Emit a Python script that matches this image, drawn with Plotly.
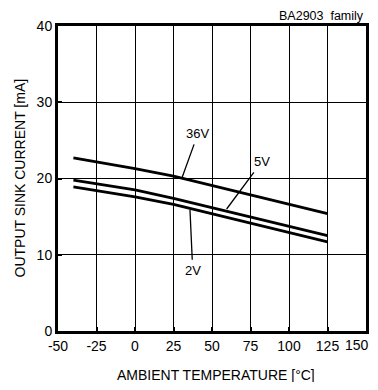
import plotly.graph_objects as go

# Data
temps = [-40, -25, 0, 25, 50, 75, 100, 125]
i_36v = [22.7, 22.2, 21.3, 20.3, 19.1, 17.9, 16.7, 15.4]
i_5v = [19.8, 19.3, 18.5, 17.4, 16.2, 15.0, 13.8, 12.5]
i_2v = [18.9, 18.4, 17.6, 16.6, 15.4, 14.2, 12.9, 11.7]

x_ticks = [-50, -25, 0, 25, 50, 75, 100, 125, 150]
x_tick_labels = ["-50", "-25", "0", "25", "50", "75", "100", "125", "150"]
y_ticks = [0, 10, 20, 30, 40]

# Labels: text, point on curve (x, y), text position (x, y)
label_text = ["36V", "5V", "2V"]
label_px = [30.7, 59.5, 35.7]
label_py = [20.2, 16.0, 15.9]
label_tx = [40.9, 82.3, 37.5]
label_ty = [25.9, 22.2, 7.9]

FONT = "Liberation Sans, Arial, sans-serif"

fig = go.Figure()
for ys in (i_36v, i_5v, i_2v):
    fig.add_trace(go.Scatter(x=temps, y=ys, mode="lines",
                             line=dict(color="black", width=2.8),
                             showlegend=False, hoverinfo="skip"))

for t, px, py, tx, ty in zip(label_text, label_px, label_py, label_tx, label_ty):
    fig.add_annotation(x=px, y=py, ax=tx, ay=ty, xref="x", yref="y",
                       axref="x", ayref="y", text=t, showarrow=True,
                       arrowhead=0, arrowwidth=1.3, arrowcolor="black",
                       standoff=0, startstandoff=2,
                       font=dict(size=13, color="black", family=FONT))

fig.add_annotation(x=1, y=1, xref="paper", yref="paper", xanchor="right",
                   yanchor="middle", yshift=10, showarrow=False,
                   text="BA2903\u00a0\u00a0family",
                   font=dict(size=12.5, color="black", family=FONT))

# Axis titles
fig.add_annotation(x=0.5, y=0, xref="paper", yref="paper", xanchor="center",
                   yanchor="middle", yshift=-44, xshift=4, showarrow=False,
                   text="AMBIENT TEMPERATURE [°C]",
                   font=dict(size=14, color="black", family=FONT))
fig.add_annotation(x=0, y=0.5, xref="paper", yref="paper", xanchor="center",
                   yanchor="middle", xshift=-39, textangle=-90, showarrow=False,
                   text="OUTPUT SINK CURRENT [mA]",
                   font=dict(size=14, color="black", family=FONT))

# last x tick label: nudged left (as in the original) so it stays on the page
fig.add_annotation(x=x_ticks[-1], y=0, xref="x", yref="paper",
                   xanchor="center", yanchor="middle", xshift=-9, yshift=-14,
                   showarrow=False, text=x_tick_labels[-1],
                   font=dict(size=14, color="black", family=FONT))

axis_common = dict(showline=True, linecolor="black", linewidth=3, mirror=True,
                   showgrid=True, gridcolor="black", gridwidth=1,
                   zeroline=False, ticks="inside", ticklen=4, tickwidth=2,
                   tickcolor="black", automargin=False,
                   tickfont=dict(size=14, color="black", family=FONT))

fig.update_xaxes(range=[-50, 150], tickvals=x_ticks,
                 ticktext=x_tick_labels[:-1] + [""], **axis_common)
fig.update_yaxes(range=[0, 40], tickvals=y_ticks,
                 ticktext=[str(v) for v in y_ticks], **axis_common)

# page body has an 8px margin; size the figure so it fits the 378x390 window
fig.update_layout(width=362, height=374,
                  margin=dict(l=50, r=4, t=18, b=51),
                  plot_bgcolor="white", paper_bgcolor="white",
                  font=dict(family=FONT, color="black"))

fig.write_html("out.html", config={"displayModeBar": False})
